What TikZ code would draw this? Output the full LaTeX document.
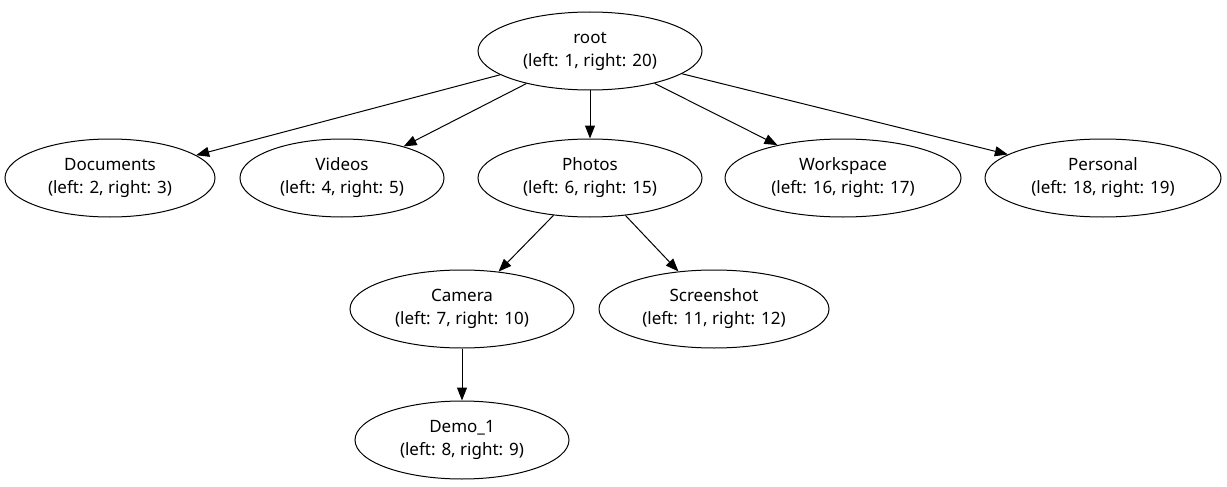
\documentclass[tikz,border=0pt]{standalone}
\usepackage{fontspec}
\setmainfont{Noto Sans}
\usetikzlibrary{shapes.geometric,arrows.meta}

\begin{document}
\begin{tikzpicture}[x=1pt, y=-1pt, line width=1pt, >={Triangle[length=13pt,width=10pt]},
    main node/.style={ellipse,draw,inner sep=0pt,minimum height=78pt,align=center,
        font=\fontsize{17}{23}\selectfont}]

    \useasboundingbox (0,0) rectangle (1227,487);

    \node[main node, minimum width=224pt] at (590, 51) (root) {root\\(left: 1, right: 20)};

    \node[main node, minimum width=210pt] at (110, 178) (documents) {Documents\\(left: 2, right: 3)};
    \node[main node, minimum width=204pt] at (342, 178) (videos) {Videos\\(left: 4, right: 5)};
    \node[main node, minimum width=224pt] at (590, 178) (photos) {Photos\\(left: 6, right: 15)};
    \node[main node, minimum width=236pt] at (843, 178) (workspace) {Workspace\\(left: 16, right: 17)};
    \node[main node, minimum width=236pt] at (1103, 178) (personal) {Personal\\(left: 18, right: 19)};

    \node[main node, minimum width=224pt] at (462, 309) (camera) {Camera\\(left: 7, right: 10)};
    \node[main node, minimum width=230pt] at (714, 309) (screenshot) {Screenshot\\(left: 11, right: 12)};

    \node[main node, minimum width=214pt] at (462, 440) (demo1) {Demo\_1\\(left: 8, right: 9)};

    \path[->] (root) edge (documents);
    \path[->] (root) edge (videos);
    \path[->] (root) edge (photos);
    \path[->] (root) edge (workspace);
    \path[->] (root) edge (personal);
    \path[->] (photos) edge (camera);
    \path[->] (photos) edge (screenshot);
    \path[->] (camera) edge (demo1);

\end{tikzpicture}
\end{document}
